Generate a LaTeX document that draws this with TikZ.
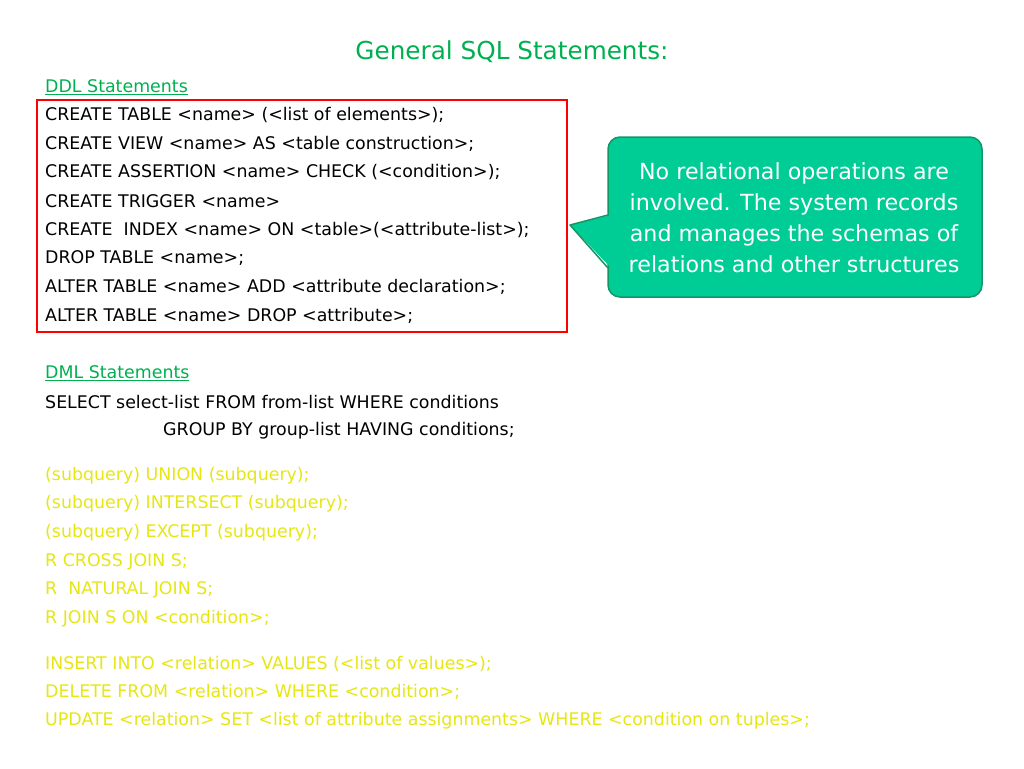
\documentclass[tikz,border=0pt]{standalone}
\usepackage{fontspec}
\setmainfont{DejaVu Sans}
\usetikzlibrary{calc}
\definecolor{tgreen}{RGB}{0,176,80}
\definecolor{tyellow}{RGB}{230,230,20}
\definecolor{cfill}{RGB}{0,204,150}
\definecolor{cdraw}{RGB}{20,150,100}
\tikzset{
 line/.style={anchor=west,inner sep=0pt,font=\fontsize{17.4}{19}\selectfont},
 bl/.style={line,text=black},
 yl/.style={line,text=tyellow},
 gl/.style={line,text=tgreen},
}
\begin{document}
\begin{tikzpicture}[x=1pt,y=-1pt]
\useasboundingbox (0,0) rectangle (1024,768);
\node[inner sep=0pt,text=tgreen,font=\fontsize{24.7}{28}\selectfont] (title) at (512,52) {General SQL Statements:};
\node[gl] (ddl) at (45,87) {\underline{DDL Statements}};
\node[bl] (d1) at (45,115) {CREATE TABLE <name> (<list of elements>);};
\node[bl] (d2) at (45,144) {CREATE VIEW <name> AS <table construction>;};
\node[bl] (d3) at (45,172) {CREATE ASSERTION <name> CHECK (<condition>);};
\node[bl] (d4) at (45,201) {CREATE TRIGGER <name>};
\node[bl] (d5) at (45,230) {CREATE\ \ INDEX <name> ON <table>(<attribute-list>);};
\node[bl] (d6) at (45,258) {DROP TABLE <name>;};
\node[bl] (d7) at (45,287) {ALTER TABLE <name> ADD <attribute declaration>;};
\node[bl] (d8) at (45,316) {ALTER TABLE <name> DROP <attribute>;};
\draw[red,line width=2pt] (37,100) rectangle (567,332);
\node[gl] (dml) at (45,373) {\underline{DML Statements}};
\node[bl] (m1) at (45,402) {SELECT select-list FROM from-list WHERE conditions};
\node[bl] (m2) at (163,431) {GROUP BY group-list HAVING conditions;};
\node[yl] (y1) at (45,476) {(subquery) UNION (subquery);};
\node[yl] (y2) at (45,504) {(subquery) INTERSECT (subquery);};
\node[yl] (y3) at (45,533) {(subquery) EXCEPT (subquery);};
\node[yl] (y4) at (45,562) {R CROSS JOIN S;};
\node[yl] (y5) at (45,590) {R\ \ NATURAL JOIN S;};
\node[yl] (y6) at (45,619) {R JOIN S ON <condition>;};
\node[yl] (y7) at (45,664) {INSERT INTO <relation> VALUES (<list of values>);};
\node[yl] (y8) at (45,692) {DELETE FROM <relation> WHERE <condition>;};
\node[yl] (y9) at (45,721) {UPDATE <relation> SET <list of attribute assignments> WHERE <condition on tuples>;};
\draw[cdraw,fill=cfill,line width=1.5pt,rounded corners=12pt] (608,137) rectangle (982,297);
\fill[cfill] (611,215) -- (570,225) -- (611,268) -- cycle;
\draw[cdraw,line width=1.5pt,line join=round] (608,215) -- (570,225) -- (608,268);
\node[align=center,text=white,inner sep=0pt,font=\fontsize{22.2}{31}\selectfont] (call) at (794,218)
 {No relational operations are\\involved. The system records\\and manages the schemas of\\relations and other structures};
\end{tikzpicture}
\end{document}
